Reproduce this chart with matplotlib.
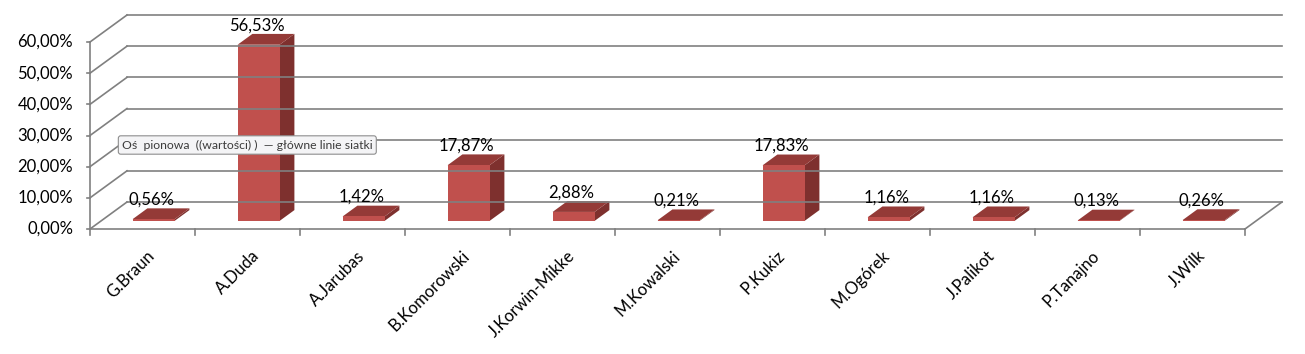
import matplotlib

matplotlib.use("Agg")

import matplotlib.pyplot as plt
from matplotlib.patches import Polygon

plt.rcParams["font.family"] = ["Lato", "DejaVu Sans"]

# data (percent of votes)
candidates = ["G.Braun", "A.Duda", "A.Jarubas", "B.Komorowski", "J.Korwin-Mikke",
              "M.Kowalski", "P.Kukiz", "M.Ogórek", "J.Palikot", "P.Tanajno", "J.Wilk"]
votes = [0.56, 56.53, 1.42, 17.87, 2.88, 0.21, 17.83, 1.16, 1.16, 0.13, 0.26]
y_ticks = [0, 10, 20, 30, 40, 50, 60]
tooltip = "Oś  pionowa  ((wartości) )  — główne linie siatki"

W, H = 1305, 354
fig = plt.figure(figsize=(W / 100, H / 100), dpi=100)
# front plane of the 3D box: x 90..1245 px, y 229..42 px (from top)
ax = fig.add_axes([90 / W, (H - 229) / H, 1155 / W, 187 / H])
ax.set_xlim(0, len(candidates))
ax.set_ylim(0, 60)
ax.axis("off")

DX = 37 / 105            # depth offset in category units
DY = 27 / (187 / 60)     # depth offset in value units
GRID = "#808080"
n = len(candidates)
FS = 12

# back wall gridlines + left wall diagonals
for t in y_ticks:
    ax.plot([DX, n + DX], [t + DY, t + DY], color=GRID, lw=1.2, clip_on=False)
    ax.plot([0, DX], [t, t + DY], color=GRID, lw=1.2, clip_on=False)
    ax.plot([-0.03, 0], [t, t], color=GRID, lw=1.2, clip_on=False)
    ax.text(-0.16, t, f"{t:.2f}%".replace(".", ","), ha="right", va="center",
            fontsize=FS, color="black")

# front axes and floor edge
ax.plot([0, 0], [0, 60], color=GRID, lw=1.2, clip_on=False)
ax.plot([0, n], [0, 0], color=GRID, lw=1.2, clip_on=False)
ax.plot([n, n + DX], [0, DY], color=GRID, lw=1.2, clip_on=False)
for i in range(n + 1):
    ax.plot([i, i], [0, -1.9], color=GRID, lw=1.2, clip_on=False)

# bars
F0, F1 = 0.3, 0.7   # depth span of the bars
BW = 0.4
FRONT, SIDE, TOP = "#C0504D", "#7E302E", "#943A37"
for i, v in enumerate(votes):
    x0 = i + 0.5 - BW / 2 + F0 * DX
    x1 = x0 + BW
    y0 = F0 * DY
    ddx = (F1 - F0) * DX
    ddy = (F1 - F0) * DY
    ax.add_patch(Polygon([(x1, y0), (x1 + ddx, y0 + ddy), (x1 + ddx, y0 + ddy + v), (x1, y0 + v)],
                         closed=True, facecolor=SIDE, edgecolor="none", clip_on=False))
    ax.add_patch(Polygon([(x0, y0 + v), (x1, y0 + v), (x1 + ddx, y0 + ddy + v), (x0 + ddx, y0 + ddy + v)],
                         closed=True, facecolor=TOP, edgecolor="none", clip_on=False))
    ax.add_patch(Polygon([(x0, y0), (x1, y0), (x1, y0 + v), (x0, y0 + v)],
                         closed=True, facecolor=FRONT, edgecolor="none", clip_on=False))
    ax.text((x0 + x1) / 2 - 0.02, v + F1 * DY + 0.2, f"{v:.2f}%".replace(".", ","),
            ha="center", va="bottom", fontsize=FS, color="black")

# category labels
for i, name in enumerate(candidates):
    ax.text(i + 0.54, -6.0, name, rotation=45, rotation_mode="anchor",
            ha="right", va="top", fontsize=FS, color="black")

# tooltip left over from the spreadsheet
fig.text(122 / W, 1 - 145 / H, tooltip, ha="left", va="center", fontsize=8.8,
         color="#3C3C3C",
         bbox=dict(boxstyle="round,pad=0.3,rounding_size=0.2", facecolor="#F4F4F6",
                   edgecolor="#8E8E8E", lw=0.8))

fig.savefig("out.png", dpi=100, facecolor="white")
